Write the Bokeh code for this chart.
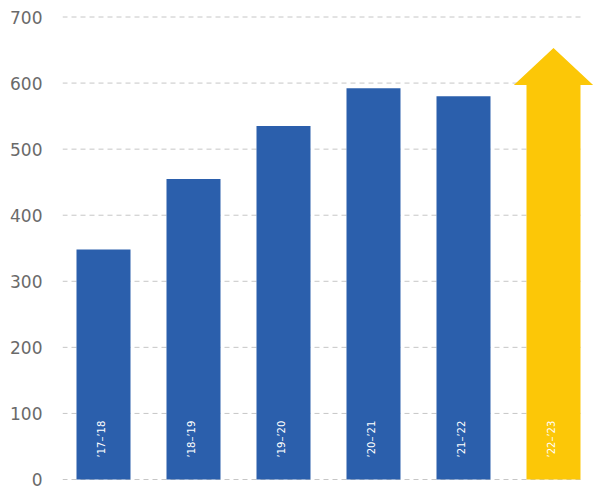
import math
from bokeh.plotting import figure
from bokeh.models import Range1d, FixedTicker, ColumnDataSource
from bokeh.core.properties import value
from bokeh.embed import file_html
from bokeh.resources import INLINE

# ---- data ----
categories = ["’17–’18", "’18–’19", "’19–’20", "’20–’21", "’21–’22", "’22–’23"]
bar_values = [348, 455, 535, 592, 580]          # actual years (blue bars)
arrow_base = 597                                 # projected year: shaft top
arrow_tip = 653                                  # projected year: arrow tip
y_ticks = [0, 100, 200, 300, 400, 500, 600, 700]

BLUE = "#2b5fac"
YELLOW = "#fcc707"
FONT = "DejaVu Sans"

xs = list(range(len(categories)))
x_start, x_end = -0.4556, 5.4556
grid_end = 5.3
bar_w = 0.6
head_half = 0.44

p = figure(width=596, height=489, output_backend="svg", toolbar_location=None,
           x_range=Range1d(x_start, x_end), y_range=Range1d(-3.03, 703.8),
           x_axis_location=None, min_border_left=62, min_border_right=2,
           min_border_top=14, min_border_bottom=8)
p.outline_line_color = None
p.xgrid.visible = False
p.ygrid.visible = False
p.background_fill_color = "white"
p.border_fill_color = "white"

# dashed grid lines (ending before the arrow head edge like the reference)
p.segment(x0=[x_start] * len(y_ticks), x1=[grid_end] * len(y_ticks), y0=y_ticks, y1=y_ticks,
          line_color="#c6c6c6", line_width=1, line_dash="5 4")

# blue bars
bar_src = ColumnDataSource(dict(x=xs[:len(bar_values)], top=bar_values))
p.vbar(x="x", top="top", bottom=0, width=bar_w, source=bar_src,
       fill_color=BLUE, line_color=None)

# yellow arrow for last category
cx = xs[-1]
ax = [cx - bar_w / 2, cx - bar_w / 2, cx - head_half, cx, cx + head_half, cx + bar_w / 2, cx + bar_w / 2]
ay = [0, arrow_base, arrow_base, arrow_tip, arrow_base, arrow_base, 0]
p.patch(x=ax, y=ay, fill_color=YELLOW, line_color=None)

# rotated category labels inside bars
p.text(x=xs, y=[0] * len(xs), text=categories, angle=math.pi / 2,
       text_align="left", text_baseline="alphabetic", x_offset=-2, y_offset=-22,
       text_color="white", text_font=value(FONT), text_font_size="10px")

# y axis styling
yax = p.yaxis[0]
yax.ticker = FixedTicker(ticks=y_ticks)
yax.axis_line_color = None
yax.major_tick_line_color = None
yax.minor_tick_line_color = None
yax.major_tick_out = 0
yax.major_tick_in = 0
yax.major_label_standoff = 20
yax.major_label_text_font = FONT
yax.major_label_text_font_size = "17px"
yax.major_label_text_color = "#6a6a6a"

open("out.html", "w").write(file_html(p, INLINE))
